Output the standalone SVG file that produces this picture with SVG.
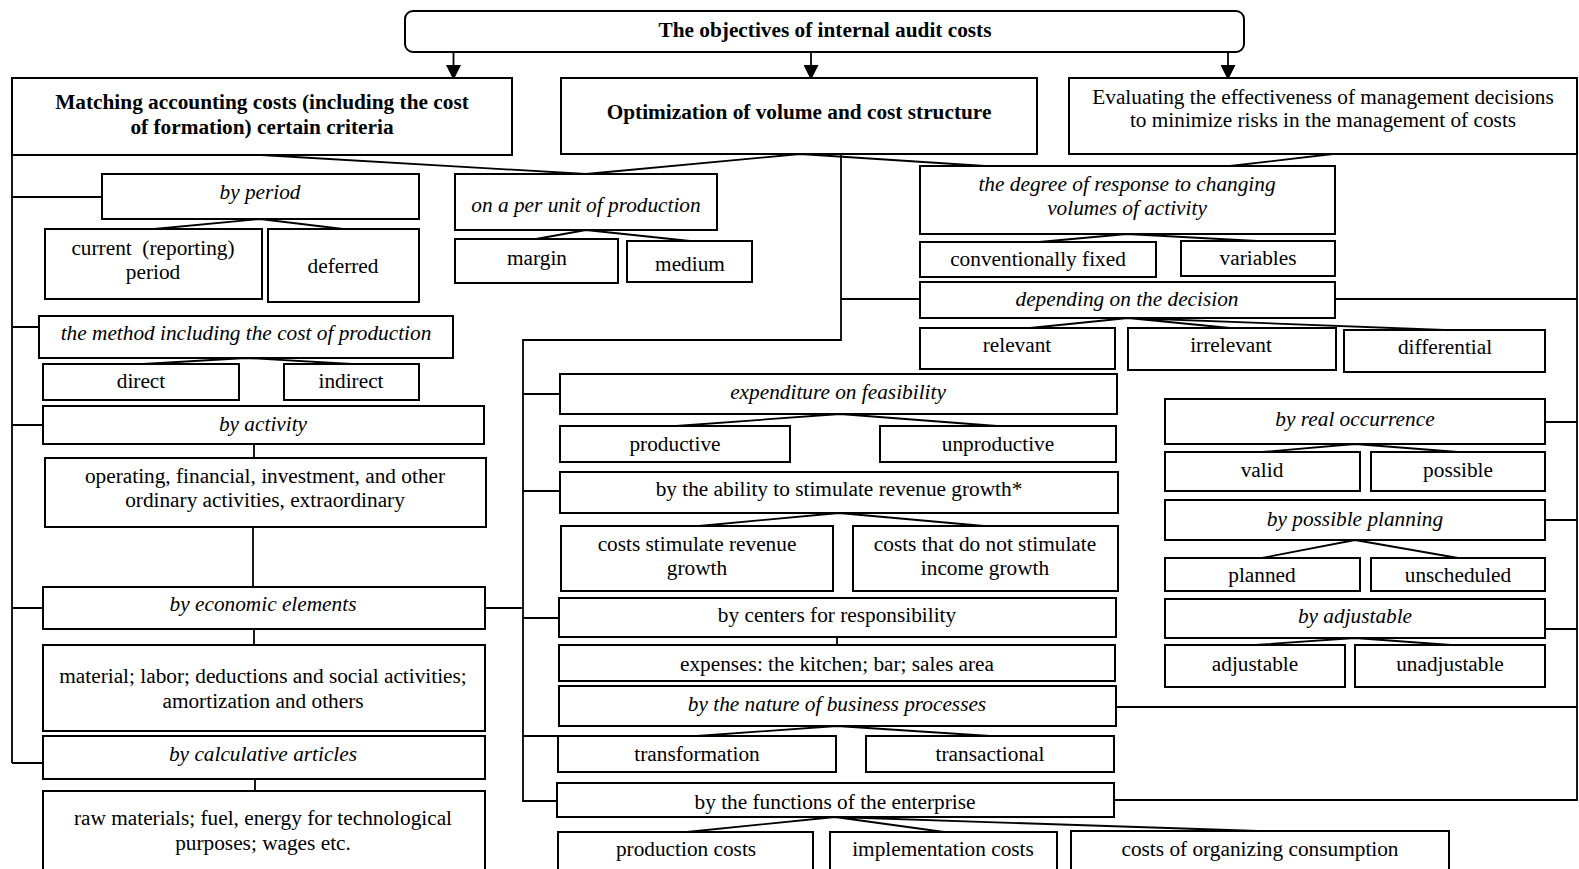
<svg xmlns="http://www.w3.org/2000/svg" width="1579" height="869" viewBox="0 0 1579 869">
<style>
.box{fill:#fff;stroke:#000;stroke-width:2}
.ln{fill:none;stroke:#000;stroke-width:1.8}
text{font-family:'Liberation Serif','DejaVu Serif',serif;font-size:21.3px;fill:#000;text-anchor:middle}
.i{font-style:italic}
.b{font-weight:bold}
</style>
<defs>
<marker id="arr" viewBox="0 0 16 16" refX="16" refY="8" markerWidth="15" markerHeight="15" markerUnits="userSpaceOnUse" orient="auto">
<path d="M0,0 L16,8 L0,16 z" fill="#000"/>
</marker>
</defs>
<rect width="1579" height="869" fill="#fff"/>
<g id="connectors">
<path class="ln" d="M453.5,52 V80" marker-end="url(#arr)"/>
<path class="ln" d="M811,52 V80" marker-end="url(#arr)"/>
<path class="ln" d="M1228,52 V80" marker-end="url(#arr)"/>
<path class="ln" d="M261,155 L586,174 M800,154 L586,174 M800,154 L985,166 M1333,154 L1230,166"/>
<path class="ln" d="M260,219 L154,229 M260,219 L343,229"/>
<path class="ln" d="M586,230 L536,239 M586,230 L690,241"/>
<path class="ln" d="M1127,234 L1039,242 M1127,234 L1257,241"/>
<path class="ln" d="M1128,318 L1030,328 M1128,318 L1230,328 M1128,318 L1445,330"/>
<path class="ln" d="M246,358 L143,364 M246,358 L352,364"/>
<path class="ln" d="M254,444 V458 M253,527 V587 M254,629 V645 M255,779 V791"/>
<path class="ln" d="M840,414 L676,426 M840,414 L997,426"/>
<path class="ln" d="M839,513 L699,526 M839,513 L984,526"/>
<path class="ln" d="M837,637 V645"/>
<path class="ln" d="M837,726 L697,736 M837,726 L990,736"/>
<path class="ln" d="M835,817 L687,832 M835,817 L944,832 M835,817 L1259,831"/>
<path class="ln" d="M1355,444 L1262,452 M1355,444 L1458,452"/>
<path class="ln" d="M1355,540 L1262,558 M1355,540 L1458,558"/>
<path class="ln" d="M1355,638 L1255,645 M1355,638 L1451,645"/>
<path class="ln" d="M12,155 V763 M12,197 H102 M12,327 H39 M12,425 H43 M12,608 H43 M12,763 H43"/>
<path class="ln" d="M841,154 V340 H523 V801 H557 M841,299 H920 M523,394 H560 M523,491 H560 M485,608 H523 M523,618 H559 M523,736 H558"/>
<path class="ln" d="M1577,154 V800 H1114 M1335,299 H1577 M1545,422 H1577 M1545,520 H1577 M1545,629 H1577 M1116,707 H1577"/>
</g>
<g font-family="'Liberation Serif','DejaVu Serif',serif">
<g id="n-top"><rect class="box" x="405" y="11" width="839" height="41" rx="8"/><text class="b" x="825" y="37">The objectives of internal audit costs</text></g>
<g id="n-matching"><rect class="box" x="12" y="78" width="500" height="77"/><text class="b" x="262" y="109">Matching accounting costs (including the cost</text><text class="b" x="262" y="134">of formation) certain criteria</text></g>
<g id="n-optimization"><rect class="box" x="561" y="78" width="476" height="76"/><text class="b" x="799" y="119">Optimization of volume and cost structure</text></g>
<g id="n-evaluating"><rect class="box" x="1069" y="78" width="508" height="76"/><text x="1323" y="104">Evaluating the effectiveness of management decisions</text><text x="1323" y="127">to minimize risks in the management of costs</text></g>
<g id="n-period"><rect class="box" x="102" y="174" width="317" height="45"/><text class="i" x="260" y="199">by period</text></g>
<g id="n-current"><rect class="box" x="45" y="229" width="217" height="70"/><text x="153" y="255" xml:space="preserve">current  (reporting)</text><text x="153" y="279">period</text></g>
<g id="n-deferred"><rect class="box" x="268" y="229" width="151" height="73"/><text x="343" y="273">deferred</text></g>
<g id="n-perunit"><rect class="box" x="455" y="174" width="262" height="56"/><text class="i" x="586" y="212">on a per unit of production</text></g>
<g id="n-margin"><rect class="box" x="455" y="239" width="163" height="44"/><text x="537" y="265">margin</text></g>
<g id="n-medium"><rect class="box" x="627" y="241" width="125" height="41"/><text x="690" y="271">medium</text></g>
<g id="n-degree"><rect class="box" x="920" y="166" width="415" height="68"/><text class="i" x="1127" y="191">the degree of response to changing</text><text class="i" x="1127" y="215">volumes of activity</text></g>
<g id="n-fixed"><rect class="box" x="920" y="242" width="236" height="35"/><text x="1038" y="266">conventionally fixed</text></g>
<g id="n-variables"><rect class="box" x="1181" y="241" width="154" height="35"/><text x="1258" y="265">variables</text></g>
<g id="n-depending"><rect class="box" x="920" y="282" width="415" height="36"/><text class="i" x="1127" y="306">depending on the decision</text></g>
<g id="n-relevant"><rect class="box" x="920" y="328" width="195" height="41"/><text x="1017" y="352">relevant</text></g>
<g id="n-irrelevant"><rect class="box" x="1128" y="328" width="208" height="42"/><text x="1231" y="352">irrelevant</text></g>
<g id="n-differential"><rect class="box" x="1344" y="330" width="201" height="42"/><text x="1445" y="354">differential</text></g>
<g id="n-method"><rect class="box" x="39" y="316" width="414" height="42"/><text class="i" x="246" y="340">the method including the cost of production</text></g>
<g id="n-direct"><rect class="box" x="43" y="364" width="196" height="36"/><text x="141" y="388">direct</text></g>
<g id="n-indirect"><rect class="box" x="284" y="364" width="135" height="36"/><text x="351" y="388">indirect</text></g>
<g id="n-activity"><rect class="box" x="43" y="406" width="441" height="38"/><text class="i" x="263" y="431">by activity</text></g>
<g id="n-operating"><rect class="box" x="45" y="458" width="441" height="69"/><text x="265" y="483">operating, financial, investment, and other</text><text x="265" y="507">ordinary activities, extraordinary</text></g>
<g id="n-economic"><rect class="box" x="43" y="587" width="442" height="42"/><text class="i" x="263" y="611">by economic elements</text></g>
<g id="n-material"><rect class="box" x="43" y="645" width="442" height="86"/><text x="263" y="683">material; labor; deductions and social activities;</text><text x="263" y="708">amortization and others</text></g>
<g id="n-calculative"><rect class="box" x="43" y="736" width="442" height="43"/><text class="i" x="263" y="761">by calculative articles</text></g>
<g id="n-raw"><rect class="box" x="43" y="791" width="442" height="90"/><text x="263" y="825">raw materials; fuel, energy for technological</text><text x="263" y="850">purposes; wages etc.</text></g>
<g id="n-expenditure"><rect class="box" x="560" y="374" width="557" height="40"/><text class="i" x="838" y="399">expenditure on feasibility</text></g>
<g id="n-productive"><rect class="box" x="560" y="426" width="230" height="36"/><text x="675" y="451">productive</text></g>
<g id="n-unproductive"><rect class="box" x="880" y="426" width="236" height="36"/><text x="998" y="451">unproductive</text></g>
<g id="n-ability"><rect class="box" x="560" y="472" width="558" height="41"/><text x="839" y="496">by the ability to stimulate revenue growth*</text></g>
<g id="n-stim"><rect class="box" x="561" y="526" width="272" height="65"/><text x="697" y="551">costs stimulate revenue</text><text x="697" y="575">growth</text></g>
<g id="n-nostim"><rect class="box" x="853" y="526" width="265" height="65"/><text x="985" y="551">costs that do not stimulate</text><text x="985" y="575">income growth</text></g>
<g id="n-centers"><rect class="box" x="559" y="598" width="557" height="39"/><text x="837" y="622">by centers for responsibility</text></g>
<g id="n-expenses"><rect class="box" x="559" y="645" width="556" height="36"/><text x="837" y="671">expenses: the kitchen; bar; sales area</text></g>
<g id="n-nature"><rect class="box" x="559" y="686" width="557" height="40"/><text class="i" x="837" y="711">by the nature of business processes</text></g>
<g id="n-transformation"><rect class="box" x="558" y="736" width="278" height="36"/><text x="697" y="761">transformation</text></g>
<g id="n-transactional"><rect class="box" x="866" y="736" width="248" height="36"/><text x="990" y="761">transactional</text></g>
<g id="n-functions"><rect class="box" x="557" y="783" width="557" height="34"/><text x="835" y="809">by the functions of the enterprise</text></g>
<g id="n-production"><rect class="box" x="558" y="832" width="255" height="50"/><text x="686" y="856">production costs</text></g>
<g id="n-implementation"><rect class="box" x="830" y="832" width="227" height="50"/><text x="943" y="856">implementation costs</text></g>
<g id="n-organizing"><rect class="box" x="1071" y="831" width="378" height="50"/><text x="1260" y="856">costs of organizing consumption</text></g>
<g id="n-realocc"><rect class="box" x="1165" y="399" width="380" height="45"/><text class="i" x="1355" y="426">by real occurrence</text></g>
<g id="n-valid"><rect class="box" x="1165" y="452" width="195" height="39"/><text x="1262" y="477">valid</text></g>
<g id="n-possible"><rect class="box" x="1371" y="452" width="174" height="39"/><text x="1458" y="477">possible</text></g>
<g id="n-planning"><rect class="box" x="1165" y="500" width="380" height="40"/><text class="i" x="1355" y="526">by possible planning</text></g>
<g id="n-planned"><rect class="box" x="1165" y="558" width="195" height="33"/><text x="1262" y="582">planned</text></g>
<g id="n-unscheduled"><rect class="box" x="1371" y="558" width="174" height="33"/><text x="1458" y="582">unscheduled</text></g>
<g id="n-byadjustable"><rect class="box" x="1165" y="599" width="380" height="39"/><text class="i" x="1355" y="623">by adjustable</text></g>
<g id="n-adjustable"><rect class="box" x="1165" y="645" width="180" height="42"/><text x="1255" y="671">adjustable</text></g>
<g id="n-unadjustable"><rect class="box" x="1355" y="645" width="190" height="42"/><text x="1450" y="671">unadjustable</text></g>
</g>
</svg>
